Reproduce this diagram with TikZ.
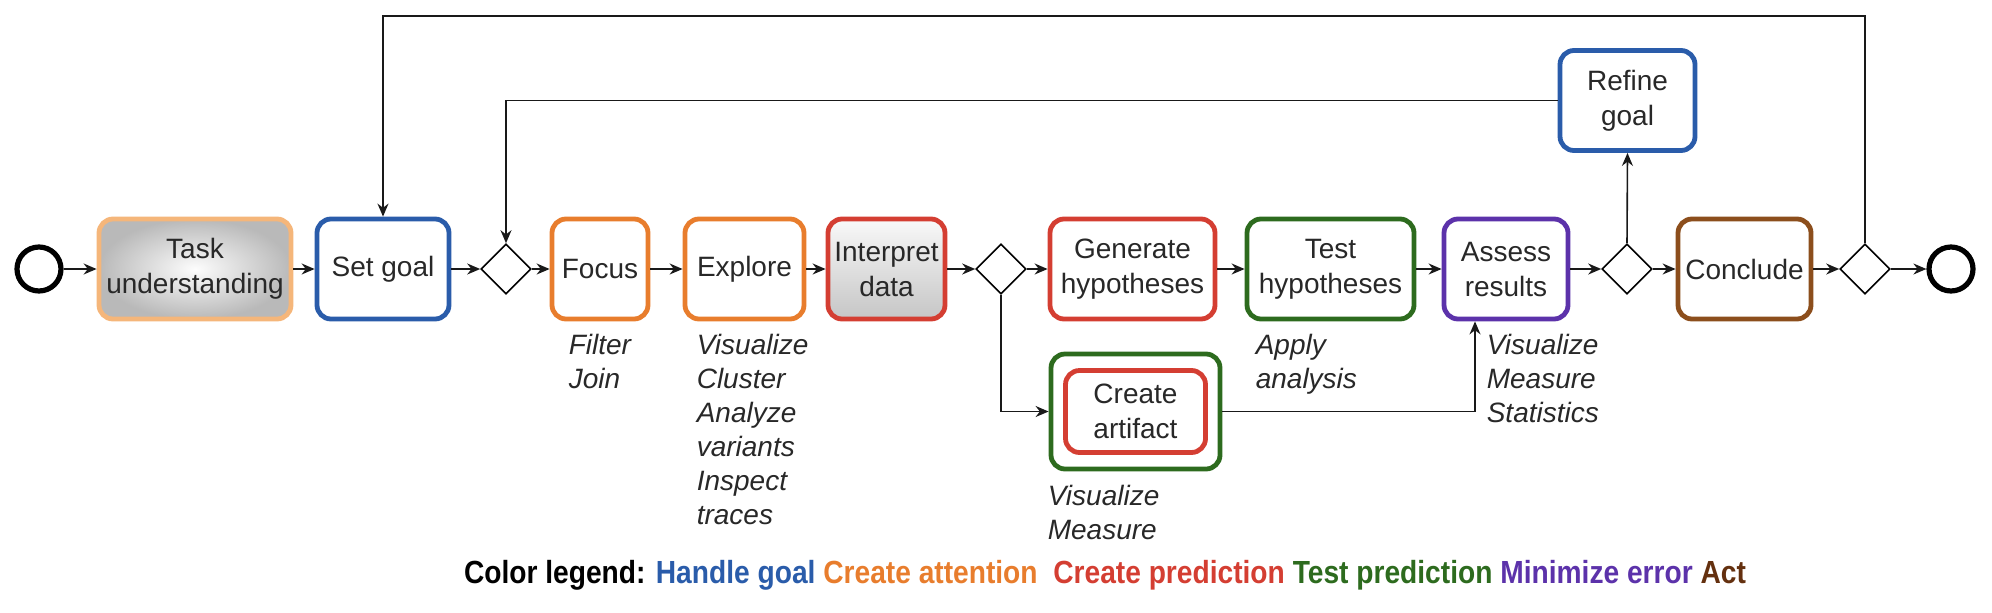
\documentclass[tikz,border=0pt]{standalone}
\usepackage{fontspec}
\setmainfont{Liberation Sans}
\newfontfamily\legendfont[FakeStretch=0.88]{Liberation Sans}
\usetikzlibrary{arrows.meta, shapes.geometric}

\definecolor{goalcol}{RGB}{42,92,170}
\definecolor{attncol}{RGB}{232,125,45}
\definecolor{taskcol}{RGB}{245,182,122}
\definecolor{predcol}{RGB}{212,62,50}
\definecolor{testcol}{RGB}{45,107,30}
\definecolor{errcol}{RGB}{92,50,170}
\definecolor{actcol}{RGB}{140,78,28}
\definecolor{actleg}{RGB}{100,48,15}
\definecolor{inkgray}{RGB}{40,40,40}
\definecolor{linecol}{RGB}{25,25,25}

\begin{document}
\begin{tikzpicture}[x=0.5pt, y=-0.5pt, >={Stealth[length=6.5pt, width=5.5pt]}, line width=0.8pt,
  box/.style={draw, rounded corners=7pt, line width=2.4pt, minimum height=50pt, align=center,
    text=inkgray, font=\fontsize{14}{17.5}\selectfont, inner sep=1pt},
  gate/.style={diamond, draw, aspect=1, minimum size=25pt, inner sep=0pt, line width=0.8pt},
  event/.style={circle, draw, line width=2.6pt, minimum size=22pt, inner sep=0pt},
  note/.style={anchor=north west, align=left, inner sep=0pt, text=inkgray,
    font=\itshape\fontsize{14}{17}\selectfont},
  flow/.style={->, draw=linecol, line width=0.8pt}]
  \useasboundingbox (0,0) rectangle (1992,612);
  % eventos
  \node[event] (start) at (39,269) {};
  \node[event] (end) at (1951,269) {};
  % tareas
  \node[box, draw=taskcol, inner color=gray!2, outer color=gray!55, minimum width=96pt] (task) at (195,269) {Task\\understanding};
  \node[box, draw=goalcol, minimum width=66pt] (setgoal) at (383,269) {Set goal};
  \node[gate] (d1) at (506,269) {};
  \node[box, draw=attncol, minimum width=48pt] (focus) at (600,269) {Focus};
  \node[box, draw=attncol, minimum width=59.5pt] (explore) at (744.5,269) {Explore};
  \node[box, draw=predcol, top color=gray!5, bottom color=gray!45, minimum width=58.5pt] (interp) at (886.5,269) {Interpret\\data};
  \node[gate] (d2) at (1001,269) {};
  \node[box, draw=predcol, minimum width=82.5pt] (gen) at (1132.5,269) {Generate\\hypotheses};
  \node[box, draw=testcol, minimum width=83.5pt] (test) at (1330.5,269) {Test\\hypotheses};
  \node[box, draw=errcol, minimum width=62pt] (assess) at (1506,269) {Assess\\results};
  \node[gate] (d3) at (1627,269) {};
  \node[box, draw=actcol, minimum width=66.5pt] (conclude) at (1744.5,269) {Conclude};
  \node[gate] (d4) at (1865,269) {};
  \node[box, draw=goalcol, minimum width=67.5pt] (refine) at (1627.5,100.5) {Refine\\goal};
  \node[box, draw=testcol, minimum width=84.5pt, minimum height=57.5pt] (artifact) at (1135.5,411.5) {};
  \node[box, draw=predcol, minimum width=70pt, minimum height=41pt] (artin) at (artifact) {Create\\artifact};
  \coordinate (toploop) at (0,16);

  % flujo principal
  \foreach \a/\b in {start/task, task/setgoal, setgoal/d1, d1/focus, focus/explore, explore/interp,
      interp/d2, d2/gen, gen/test, test/assess, assess/d3, d3/conclude, conclude/d4, d4/end}
    \draw[flow] (\a.east) -- (\b.west);

  % ramas y bucles
  \draw[flow] (d2.south) |- (artifact.west);
  \draw[flow] (artifact.east) -| ([xshift=-15.5pt]assess.south);
  \draw[flow] (d3.north) -- (refine.south);
  \draw[flow] (refine.west) -| (d1.north);
  \draw[flow] (d4.north) -- (d4.north |- toploop) -| (setgoal.north);

  % acciones
  \node[note] (n1) at (568,333) {Filter\\Join};
  \node[note] (n2) at (696,333) {Visualize\\Cluster\\Analyze\\variants\\Inspect\\traces};
  \node[note] (n3) at (1255,333) {Apply\\analysis};
  \node[note] (n4) at (1486,333) {Visualize\\Measure\\Statistics};
  \node[note] (n5) at (1047,484) {Visualize\\Measure};

  % leyenda
  \node[font=\legendfont\bfseries\fontsize{16}{19}\selectfont] (legend) at (1105,575)
    {Color legend: \textcolor{goalcol}{Handle goal} \textcolor{attncol}{Create attention}\ \ \textcolor{predcol}{Create prediction} \textcolor{testcol}{Test prediction} \textcolor{errcol}{Minimize error} \textcolor{actleg}{Act}};
\end{tikzpicture}
\end{document}
